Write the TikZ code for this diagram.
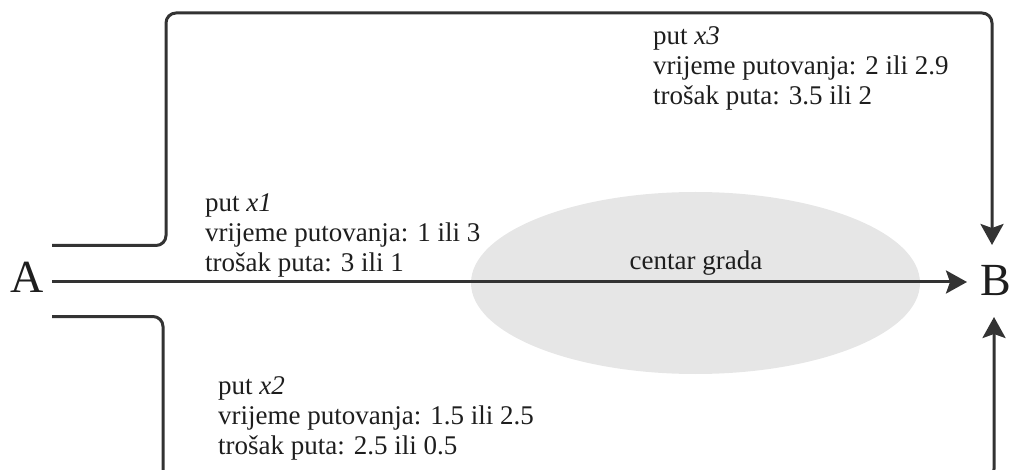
\documentclass[tikz,border=0pt]{standalone}
\usepackage{fontspec}
\setmainfont{Liberation Serif}
\usetikzlibrary{arrows.meta,shapes.geometric}
\definecolor{linegray}{RGB}{51,51,51}
\definecolor{ellgray}{RGB}{230,230,230}
\definecolor{textgray}{RGB}{30,30,30}
\tikzset{
  conn/.style={draw=linegray, line width=3pt, rounded corners=10pt},
  arr/.style={conn, -{Stealth[length=21pt,width=23pt,inset=4pt]}},
  info/.style={align=left, inner sep=0pt, anchor=north west, text=textgray, font=\fontsize{27}{30}\selectfont},
  endpt/.style={inner ysep=0pt, text=textgray, font=\fontsize{46}{46}\selectfont, text height=30.4pt}
}
\begin{document}
\begin{tikzpicture}[x=1pt,y=-1pt]
\useasboundingbox (0,0) rectangle (1009,470);
% city centre
\node[ellipse, fill=ellgray, minimum width=449pt, minimum height=182pt, inner sep=0pt] (centar) at (695.5,283) {};
\node[anchor=base, inner sep=0pt, text=textgray, font=\fontsize{27}{30}\selectfont] (centarlbl) at (696,270) {centar grada};
% end points
\node[endpt, anchor=east, inner xsep=8.5pt, text depth=8.4pt] (A) at (52,282) {A};
\node[endpt, anchor=west, inner xsep=13pt, text depth=2.4pt] (B) at (967,282) {B};
% route labels
\node[info] (l1) at (205,212-18.6) {put \textit{x1}\\vrijeme putovanja: 1 ili 3\\trošak puta: 3 ili 1};
\node[info] (l2) at (218,395-18.6) {put \textit{x2}\\vrijeme putovanja: 1.5 ili 2.5\\trošak puta: 2.5 ili 0.5};
\node[info] (l3) at (653,45-18.6) {put \textit{x3}\\vrijeme putovanja: 2 ili 2.9\\trošak puta: 3.5 ili 2};
% connector ends
\coordinate (t0) at (52,245.5);
\coordinate (tEnd) at (992,245);
\coordinate (b0) at (52,316.5);
\coordinate (bEnd) at (994,317);
% routes
\draw[arr] (A.east) -- (B.west);
\draw[arr] (t0) -| (166,13) -| (tEnd);
\begin{scope}
\clip (0,0) rectangle (1009,470);
\draw[arr] (b0) -| (163,479) -| (bEnd);
\end{scope}
\end{tikzpicture}
\end{document}
